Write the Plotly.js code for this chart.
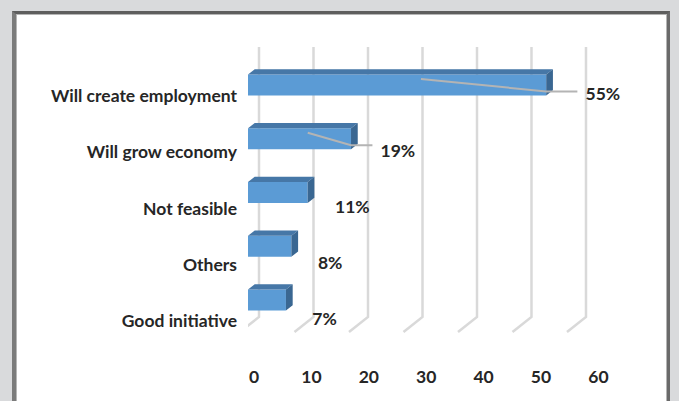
<!DOCTYPE html>
<html>
<head>
<meta charset="utf-8">
<script src="https://cdn.plot.ly/plotly-3.0.1.min.js"></script>
<style>
  html, body { margin: 0; padding: 0; background: #d9dadc; width: 679px; height: 401px; overflow: hidden; }
  #frame { position: absolute; left: 12px; top: 11px; width: 651px; height: 420px;
           background: #ffffff; border-top: 3px solid #5e5e5e; border-left: 4px solid #7b7b7b;
           border-right: 3px solid #6a6a6a; box-shadow: inset 1px 1px 0 #b5b5b5, inset -1px 0 0 #b5b5b5; }
  #chart { position: absolute; left: 0; top: 0; width: 679px; height: 401px; }
</style>
</head>
<body>
<div id="frame"></div>
<div id="chart"></div>
<script>
// ---- data (top to bottom as shown) ----
const categories = ['Will create employment', 'Will grow economy', 'Not feasible', 'Others', 'Good initiative'];
const values = [55, 19, 11, 8, 7];
const tickValues = [0, 10, 20, 30, 40, 50, 60];

// ---- style constants ----
const FRONT = '#5b9bd5', TOP = '#4677a7', SIDE = '#3a6792';
const GRID = '#d9d9d9', LEADER = '#b4b4b4';
const FONT = { family: 'Lato, "Open Sans", sans-serif', size: 17.5, color: '#262626', weight: 700 };
const BAR_H = 0.39, DX = 1.24, DY = 0.099;          // bar thickness and 3D depth (bar-axis units)
const WALL_SCALE = 0.9495, WALL_DX = 0.871;          // back wall relative to tick axis
const FLOOR_DX = 3.31;                               // floor slant (tick-axis units)
const WALL_TOP = 4.871, WALL_BOTTOM = 0.0711, FLOOR_FRONT = -0.1956;

const n = categories.length;
const pos = categories.map((c, i) => n - 1 - i);     // vertical positions (bottom = 0)

// back-wall grid lines with floor slant (main axes, drawn underneath)
const gx = [], gy = [];
tickValues.forEach(t => {
  const x = t * WALL_SCALE + WALL_DX;
  gx.push(x, x, x - FLOOR_DX, null);
  gy.push(WALL_TOP, WALL_BOTTOM, FLOOR_FRONT, null);
});

// 3D faces
const topX = [], topY = [], sideX = [], sideY = [];
values.forEach((v, i) => {
  const k = pos[i], yt = k + BAR_H / 2, yb = k - BAR_H / 2;
  topX.push(0, v, v + DX, DX, 0, null);
  topY.push(yt, yt, yt + DY, yt + DY, yt, null);
  sideX.push(v, v, v + DX, v + DX, v, null);
  sideY.push(yb, yt, yt + DY, yb + DY, yb, null);
});

// data labels and leader lines
const labelX = values.map(v => v * 1.05 + 4.5);
const lx = [], ly = [];
values.forEach((v, i) => {
  if (v > 15) {
    const k = pos[i];
    lx.push(v * 0.58, v, labelX[i] - 1.5, null);
    ly.push(k + 0.11, k - 0.12, k - 0.12, null);
  }
});

const traces = [
  { type: 'scatter', x: gx, y: gy, xaxis: 'x', yaxis: 'y', mode: 'lines',
    line: { color: GRID, width: 2.5 }, hoverinfo: 'skip', showlegend: false },
  { type: 'bar', orientation: 'h', x: values, y: pos, xaxis: 'x2', yaxis: 'y2', width: BAR_H,
    marker: { color: FRONT, line: { width: 0 } }, hoverinfo: 'skip', showlegend: false },
  { type: 'scatter', x: topX, y: topY, xaxis: 'x2', yaxis: 'y2', mode: 'lines', fill: 'toself',
    fillcolor: TOP, line: { width: 0, color: TOP }, hoverinfo: 'skip', showlegend: false },
  { type: 'scatter', x: sideX, y: sideY, xaxis: 'x2', yaxis: 'y2', mode: 'lines', fill: 'toself',
    fillcolor: SIDE, line: { width: 0, color: SIDE }, hoverinfo: 'skip', showlegend: false },
  { type: 'scatter', x: lx, y: ly, xaxis: 'x2', yaxis: 'y2', mode: 'lines',
    line: { color: LEADER, width: 2 }, hoverinfo: 'skip', showlegend: false },
  { type: 'scatter', x: labelX, y: pos, xaxis: 'x2', yaxis: 'y', mode: 'text',
    text: values.map(v => v + '%'), textposition: 'middle right',
    textfont: FONT, hoverinfo: 'skip', showlegend: false, cliponaxis: false }
];

const layout = {
  width: 679, height: 401,
  margin: { l: 248, r: 39, t: 30, b: 56 },
  paper_bgcolor: 'rgba(0,0,0,0)', plot_bgcolor: 'rgba(0,0,0,0)',
  showlegend: false,
  font: FONT,
  xaxis: { range: [-1.045, 67.25], tickvals: tickValues, showgrid: false, zeroline: false,
           showline: false, ticks: '', ticklabelstandoff: 19, tickfont: FONT, fixedrange: true },
  xaxis2: { overlaying: 'x', range: [0, 72.3], visible: false, fixedrange: true },
  yaxis: { range: [-0.4267, 5.173], tickvals: pos, ticktext: categories,
           showgrid: false, zeroline: false, showline: false,
           ticks: '', ticklabelstandoff: 10, tickfont: FONT, fixedrange: true },
  yaxis2: { overlaying: 'y', range: [-0.837, 5.023], visible: false, fixedrange: true }
};

Plotly.newPlot('chart', traces, layout, { displayModeBar: false, staticPlot: true });
</script>
</body>
</html>
